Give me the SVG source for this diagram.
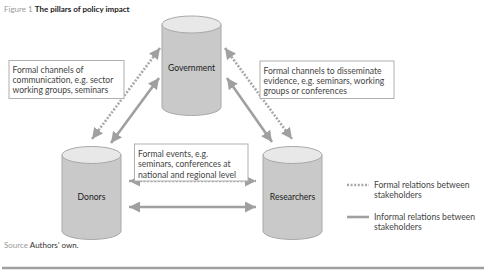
<svg xmlns="http://www.w3.org/2000/svg" width="490" height="275" viewBox="0 0 490 275">
<style>
  text { font-family: Lato, "Open Sans", "Liberation Sans", sans-serif; }
  .lbl { font-size: 8.6px; fill: #444; }
  .node { font-size: 8.6px; fill: #222; }
  .body { fill: #c9c9c9; stroke: #a8a8a8; stroke-width: 1; }
  .top { fill: #e8e8e8; stroke: #a8a8a8; stroke-width: 1; }
  .box { fill: #fff; stroke: #b0b0b0; stroke-width: 1; }
  .solid { stroke: #a0a0a0; stroke-width: 2.6; fill: none; }
  .dotted { stroke: #a8a8a8; stroke-width: 2.6; fill: none; stroke-dasharray: 2 1.6; }
</style>
<defs>
  <marker id="ah" markerUnits="userSpaceOnUse" markerWidth="11" markerHeight="11" viewBox="0 0 10 10" refX="10" refY="5" orient="auto-start-reverse">
    <path d="M0,0 L10,5 L0,10 z" fill="#a0a0a0"/>
  </marker>
</defs>
<rect width="490" height="275" fill="#fff"/>
<text x="4" y="12" style="font-size:8px"><tspan fill="#999">Figure 1 </tspan><tspan fill="#222" font-weight="bold">The pillars of policy impact</tspan></text>

<g id="connectors">
  <line class="dotted" x1="92" y1="139" x2="160" y2="48" marker-start="url(#ah)" marker-end="url(#ah)"/>
  <line class="solid" x1="111" y1="143" x2="159" y2="78" marker-start="url(#ah)" marker-end="url(#ah)"/>
  <line class="dotted" x1="225" y1="48" x2="292" y2="139" marker-start="url(#ah)" marker-end="url(#ah)"/>
  <line class="solid" x1="227" y1="78" x2="272" y2="142" marker-start="url(#ah)" marker-end="url(#ah)"/>
  <line class="dotted" x1="129" y1="181" x2="256" y2="181" marker-start="url(#ah)" marker-end="url(#ah)"/>
  <line class="solid" x1="129" y1="207" x2="256" y2="207" marker-start="url(#ah)" marker-end="url(#ah)"/>
</g>

<g id="government">
  <path class="body" d="M162,24.5 L162,107 A29.5,8.5 0 0 0 221,107 L221,24.5 Z"/>
  <ellipse class="top" cx="191.5" cy="24.5" rx="29.5" ry="8.5"/>
  <text class="node" x="191.5" y="71" text-anchor="middle">Government</text>
</g>
<g id="donors">
  <path class="body" d="M62,155 L62,231 A29.5,8.5 0 0 0 121,231 L121,155 Z"/>
  <ellipse class="top" cx="91.5" cy="155" rx="29.5" ry="8.5"/>
  <text class="node" x="91.5" y="200" text-anchor="middle">Donors</text>
</g>
<g id="researchers">
  <path class="body" d="M263,155 L263,231 A29.5,8.5 0 0 0 322,231 L322,155 Z"/>
  <ellipse class="top" cx="292.5" cy="155" rx="29.5" ry="8.5"/>
  <text class="node" x="292.5" y="200" text-anchor="middle">Researchers</text>
</g>

<g id="label-left">
  <rect class="box" x="9" y="60.5" width="115" height="38"/>
  <text class="lbl" x="12.5" y="73">Formal channels of</text>
  <text class="lbl" x="12.5" y="83">communication, e.g. sector</text>
  <text class="lbl" x="12.5" y="93">working groups, seminars</text>
</g>
<g id="label-right">
  <rect class="box" x="260" y="61" width="134" height="37.5"/>
  <text class="lbl" x="263.5" y="73.5">Formal channels to disseminate</text>
  <text class="lbl" x="263.5" y="83.5">evidence, e.g. seminars, working</text>
  <text class="lbl" x="263.5" y="93.5">groups or conferences</text>
</g>
<g id="label-middle">
  <rect class="box" x="134.5" y="144" width="113.5" height="37"/>
  <text class="lbl" x="138" y="156.5">Formal events, e.g.</text>
  <text class="lbl" x="138" y="167">seminars, conferences at</text>
  <text class="lbl" x="138" y="177.5">national and regional level</text>
</g>

<g id="legend">
  <line class="dotted" x1="347" y1="185" x2="369" y2="185"/>
  <text class="lbl" x="374" y="188">Formal relations between</text>
  <text class="lbl" x="374" y="198">stakeholders</text>
  <line class="solid" x1="347" y1="217" x2="369" y2="217"/>
  <text class="lbl" x="374" y="220">Informal relations between</text>
  <text class="lbl" x="374" y="230">stakeholders</text>
</g>

<text x="4" y="248" style="font-size:8px"><tspan fill="#999">Source </tspan><tspan fill="#333">Authors’ own.</tspan></text>
<line x1="2" y1="268" x2="484" y2="268" stroke="#a0a0a0" stroke-width="2.5"/>
</svg>
